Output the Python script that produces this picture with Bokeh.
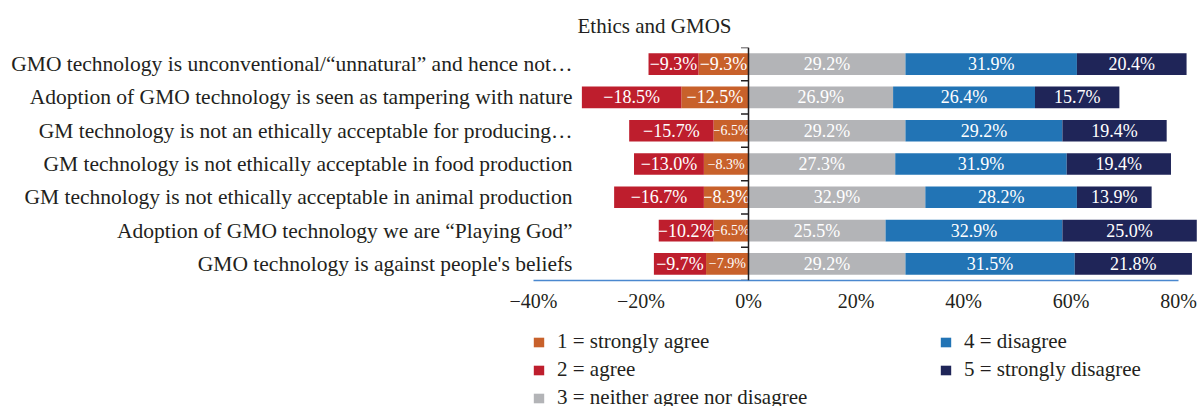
from bokeh.plotting import figure
from bokeh.layouts import column, row
from bokeh.models import ColumnDataSource, Legend, LegendItem, Span, FactorRange, Range1d, FixedTicker, Spacer
from bokeh.core.properties import value
from bokeh.embed import file_html
from bokeh.resources import INLINE

# ---------------- data ----------------
title_text = "Ethics and GMOS"
categories = [
    "GMO technology is unconventional/\u201cunnatural\u201d and hence not\u2026",
    "Adoption of GMO technology is seen as tampering with nature",
    "GM technology is not an ethically acceptable for producing\u2026",
    "GM technology is not ethically acceptable in food production",
    "GM technology is not ethically acceptable in animal production",
    "Adoption of GMO technology we are \u201cPlaying God\u201d",
    "GMO technology is against people's beliefs",
]
strongly_agree = [9.3, 12.5, 6.5, 8.3, 8.3, 6.5, 7.9]       # 1 (plotted negative)
agree = [9.3, 18.5, 15.7, 13.0, 16.7, 10.2, 9.7]            # 2 (plotted negative)
neutral = [29.2, 26.9, 29.2, 27.3, 32.9, 25.5, 29.2]        # 3
disagree = [31.9, 26.4, 29.2, 31.9, 28.2, 32.9, 31.5]       # 4
strongly_disagree = [20.4, 15.7, 19.4, 19.4, 13.9, 25.0, 21.8]  # 5
x_ticks = [-40, -20, 0, 20, 40, 60, 80]
legend_labels = ["1 = strongly agree", "2 = agree", "3 = neither agree nor disagree",
                 "4 = disagree", "5 = strongly disagree"]

# ---------------- style ----------------
FONT = "Liberation Serif"
TXT = "#231F20"
colors = ["#C8612B", "#BE1E2D", "#B3B4B7", "#2274B5", "#1F2558"]
small_label_rows_sa = [2, 3, 5, 6]   # rows where the "strongly agree" label is drawn smaller

p = figure(width=1203, height=318, output_backend="svg", toolbar_location=None,
           y_range=FactorRange(factors=list(reversed(categories))),
           x_range=Range1d(-40, 84.65))
p.min_border_left = 533
p.min_border_right = 0
p.min_border_top = 47
p.min_border_bottom = 38
p.outline_line_color = None
p.xgrid.grid_line_color = None
p.ygrid.grid_line_color = None
p.background_fill_color = "white"
p.border_fill_color = "white"

p.title.text = title_text
p.title.align = "left"
p.title.offset = 44
p.title.vertical_align = "top"
p.title.text_font = FONT
p.title.text_font_size = "21px"
p.title.text_font_style = "normal"
p.title.text_color = TXT
p.title.standoff = 16

# stacked segments
neg1_left = [-v for v in strongly_agree]
neg1_right = [0.0] * len(categories)
neg2_right = neg1_left
neg2_left = [-(a + b) for a, b in zip(strongly_agree, agree)]
pos3_left = [0.0] * len(categories)
pos3_right = list(neutral)
pos4_left = pos3_right
pos4_right = [a + b for a, b in zip(neutral, disagree)]
pos5_left = pos4_right
pos5_right = [a + b for a, b in zip(pos4_right, strongly_disagree)]

segs = [
    (neg1_left, neg1_right, strongly_agree, True),
    (neg2_left, neg2_right, agree, True),
    (pos3_left, pos3_right, neutral, False),
    (pos4_left, pos4_right, disagree, False),
    (pos5_left, pos5_right, strongly_disagree, False),
]

for i, (lft, rgt, vals, neg) in enumerate(segs):
    labels = [("\u2212" if neg else "") + f"{v:.1f}%" for v in vals]
    sizes = ["18px"] * len(vals)
    if i == 0:
        for r in small_label_rows_sa:
            sizes[r] = "14px"
    src = ColumnDataSource(dict(y=categories, left=lft, right=rgt,
                                mid=[(a + b) / 2 for a, b in zip(lft, rgt)],
                                label=labels, size=sizes))
    p.hbar(y="y", left="left", right="right", height=0.65, source=src,
           fill_color=colors[i], line_color=None)
    p.text(x="mid", y="y", text="label", source=src, text_color="white",
           text_align="center", text_baseline="middle",
           text_font=value(FONT), text_font_size="size")

# zero line with category ticks
p.add_layout(Span(location=0, dimension="height", line_color=TXT, line_width=1.5))
tick_y = [(c, 0.5) for c in categories] + [(categories[-1], -0.5)]
p.segment(x0=[-1.4] * len(tick_y), x1=[0] * len(tick_y), y0=tick_y, y1=tick_y,
          line_color=TXT, line_width=1.5)

# axes
xa = p.xaxis[0]
xa.ticker = FixedTicker(ticks=x_ticks)
xa.bounds = (x_ticks[0], x_ticks[-1])
xa.major_label_overrides = {t: (f"{t}%".replace("-", "\u2212")) for t in x_ticks}
xa.axis_line_color = "#4A88CF"
xa.axis_line_width = 1.5
xa.major_tick_line_color = None
xa.minor_tick_line_color = None
xa.major_label_text_font = FONT
xa.major_label_text_font_size = "20px"
xa.major_label_text_color = TXT
xa.major_label_standoff = 3

ya = p.yaxis[0]
ya.axis_line_color = None
ya.major_tick_line_color = None
ya.minor_tick_line_color = None
ya.major_tick_out = 0
ya.major_label_standoff = -39
ya.major_label_text_font = FONT
ya.major_label_text_font_size = "21.5px"
ya.major_label_text_color = TXT


# ---------------- legend strip ----------------
def legend_fig(width, idxs):
    f = figure(width=width, height=77, output_backend="svg", toolbar_location=None,
               x_range=Range1d(0, 1), y_range=Range1d(0, 1),
               x_axis_type=None, y_axis_type=None)
    f.min_border_left = 0
    f.min_border_right = 0
    f.min_border_top = 0
    f.min_border_bottom = 0
    f.outline_line_color = None
    f.xgrid.grid_line_color = None
    f.ygrid.grid_line_color = None
    f.border_fill_color = "white"
    items = []
    for i in idxs:
        # swatch renderer kept outside the visible range; only its legend glyph shows
        sw = f.hbar(y=[-10], left=[0], right=[1], height=1, fill_color=colors[i], line_color=None)
        items.append(LegendItem(label=legend_labels[i], renderers=[sw]))
    lgd = Legend(items=items, location="top_left", orientation="vertical",
                 glyph_width=13, glyph_height=12, label_standoff=12,
                 label_height=20, spacing=3, padding=10, margin=0,
                 label_text_font=FONT, label_text_font_size="21px", label_text_color=TXT,
                 border_line_color=None, background_fill_alpha=0)
    f.add_layout(lgd)
    return f


legend_row = row(Spacer(width=532, height=77), legend_fig(407, [0, 1, 2]),
                 legend_fig(264, [3, 4]), spacing=0)
legend_block = column(Spacer(width=1203, height=11), legend_row, spacing=0)

layout = column(p, legend_block, spacing=0)
open("out.html", "w").write(file_html(layout, INLINE))
